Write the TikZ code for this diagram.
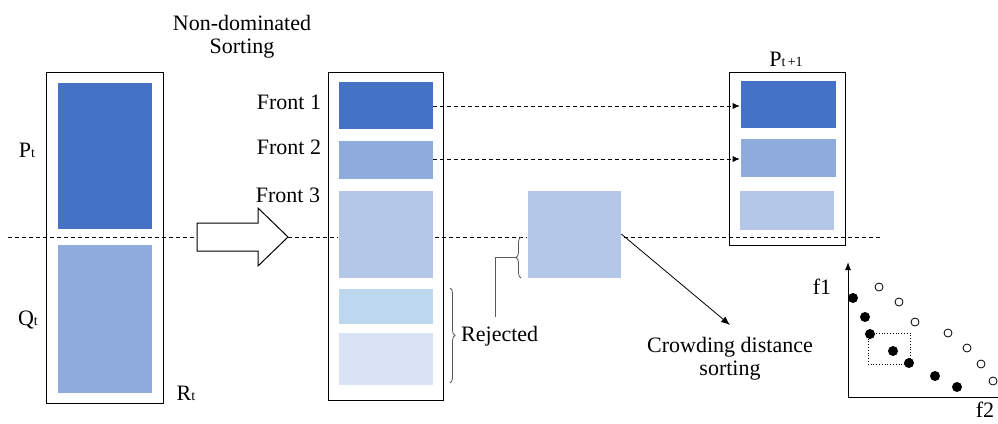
\documentclass[tikz,border=0pt]{standalone}
\usepackage{fontspec}
\setmainfont{Liberation Serif}
\usetikzlibrary{decorations.pathreplacing,arrows.meta}
\definecolor{cdark}{HTML}{4472C4}
\definecolor{cmed}{HTML}{8FAADC}
\definecolor{clight}{HTML}{B4C7E7}
\definecolor{crejA}{HTML}{BDD7EE}
\definecolor{crejB}{HTML}{DAE3F3}
\definecolor{cbrace}{HTML}{595959}
\begin{document}
\begin{tikzpicture}[x=1pt,y=-1pt,
  outerbox/.style={draw=black,line width=1pt,inner sep=0pt,minimum width=#1},
  fillbox/.style={fill=#1,draw=white,line width=0.6pt,inner sep=0pt},
  lbl/.style={font=\fontsize{22}{24}\selectfont,inner sep=0pt},
  bracestyle/.style={draw=cbrace,line width=0.8pt,decorate,decoration={brace,amplitude=5pt}},
  fdot/.style={circle,fill=black,inner sep=0pt,minimum size=10pt},
  odot/.style={circle,draw=black,fill=white,line width=0.8pt,inner sep=0pt,minimum size=8pt},
  dasharrow/.style={dash pattern=on 4pt off 3pt,line width=0.7pt,-{Latex[length=7pt,width=6pt]}}]
\useasboundingbox (0,0) rectangle (998,423);
\newcommand{\subt}[1]{{\fontsize{14}{14}\selectfont #1}}
% dashed separator
\coordinate (dL) at (8,237);
\coordinate (dR) at (880,237);
\draw[dash pattern=on 4pt off 3pt,line width=0.8pt] (dL) -- (dR);
% left box R_t
\node[outerbox=117pt,minimum height=331pt] (Rt) at (104.5,237.5) {};
\node[fillbox=cdark,minimum width=95pt,minimum height=147pt] (Pt) at (104.5,155.5) {};
\node[fillbox=cmed,minimum width=95pt,minimum height=149pt] (Qt) at (104.5,318.5) {};
\node[lbl] (PtL) at (27,150) {P\subt{t}};
\node[lbl] (QtL) at (28,320) {Q\subt{t}};
\node[lbl] (RtL) at (186,393) {R\subt{t}};
% block arrow
\draw[line width=1pt,fill=white] (197,223) -- (258,223) -- (258,208) -- (288,237) -- (258,266) -- (258,251) -- (197,251) -- cycle;
\node[lbl,align=center] (nds) at (242,37) {Non-dominated\\[-1pt]Sorting};
% middle box
\node[outerbox=115pt,minimum height=328pt] (Mid) at (385.5,236) {};
\node[fillbox=cdark,minimum width=95pt,minimum height=48pt] (F1) at (385.5,105) {};
\node[fillbox=cmed,minimum width=95pt,minimum height=39pt] (F2) at (385.5,159.5) {};
\node[fillbox=clight,minimum width=95pt,minimum height=88pt] (F3) at (385.5,234) {};
\node[fillbox=crejA,minimum width=95pt,minimum height=36pt] (R1) at (385.5,306) {};
\node[fillbox=crejB,minimum width=95pt,minimum height=53pt] (R2) at (385.5,358.5) {};
\node[lbl] (F1L) at (289,102) {Front 1};
\node[lbl] (F2L) at (289,147) {Front 2};
\node[lbl] (F3L) at (288,195) {Front 3};
% right box P_{t+1}
\node[outerbox=116pt,minimum height=173pt] (Pn) at (787,158.5) {};
\node[fillbox=cdark,minimum width=96pt,minimum height=48pt] (N1) at (788,104) {};
\node[fillbox=cmed,minimum width=96pt,minimum height=39pt] (N2) at (788,157.5) {};
\node[fillbox=clight,minimum width=95pt,minimum height=40pt] (N3) at (786.5,210) {};
\node[lbl] (PnL) at (786,59) {P\subt{t\,+1}};
% dashed arrows
\draw[dasharrow] (F1.east |- 0,106) -- (N1.west |- 0,106);
\draw[dasharrow] (F2.east |- 0,159) -- (N2.west |- 0,159);
% floating square
\node[fillbox=clight,minimum width=94pt,minimum height=88pt] (Fs) at (574,234) {};
% braces
\draw[bracestyle] (521,278) -- (521,237);
\coordinate (fsTip) at (516,257.5);
\coordinate (fsCorner) at (495,257.5);
\coordinate (fsEnd) at (495,317);
\draw[cbrace,line width=0.8pt] (fsTip) -- (fsCorner) -- (fsEnd);
\draw[bracestyle] (450,288) -- (450,383);
\node[lbl,anchor=west] (rej) at (461,336) {Rejected};
% crowding arrow
\coordinate (cdTip) at (730,325);
\draw[line width=0.8pt,-{Latex[length=9pt,width=7pt]}] (Fs.east |- 0,234) -- (cdTip);
\node[lbl,align=center] (cd) at (730,359) {Crowding distance\\[-1pt]sorting};
% plot
\coordinate (O) at (848,397);
\coordinate (Ytop) at (848,262);
\coordinate (Xend) at (1010,397);
\draw[line width=1pt,-{Latex[length=8pt,width=6pt]}] (O) -- (Ytop);
\draw[line width=1pt] (O) -- (Xend);
\node[lbl] (f1) at (822,287) {f1};
\node[lbl] (f2) at (985,410) {f2};
\draw[dotted,line width=0.8pt] (868,333) rectangle (910,364);
\foreach \x/\y [count=\i] in {853/298,865/317,870/334,893/351,909/363,935/376,957/387}
  \node[fdot] (fp\i) at (\x,\y) {};
\foreach \x/\y [count=\i] in {879/287,899/302,915/322,948/333,967/348,981/364,993/381}
  \node[odot] (op\i) at (\x,\y) {};
\end{tikzpicture}
\end{document}
